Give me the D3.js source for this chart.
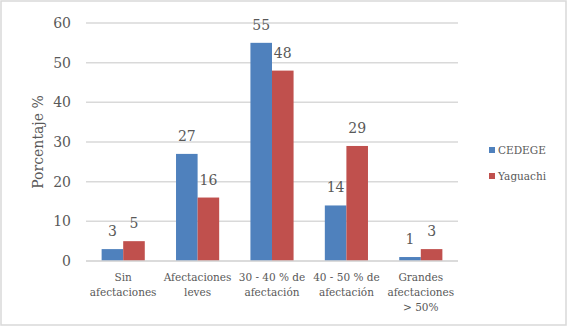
<!DOCTYPE html>
<meta charset="utf-8">
<script src="https://d3js.org/d3.v7.min.js"></script>
<style>
  body { margin: 0; background: #fff; }
  text { font-family: "DejaVu Serif", serif; fill: #595959; }
</style>
<div id="chart"></div>
<script>
// data
var categories = [
  ["Sin", "afectaciones"],
  ["Afectaciones", "leves"],
  ["30 - 40 % de", "afectación"],
  ["40 - 50 % de", "afectación"],
  ["Grandes", "afectaciones", "> 50%"]
];
var seriesNames = ["CEDEGE", "Yaguachi"];
var cedege = [3, 27, 55, 14, 1];
var yaguachi = [5, 16, 48, 29, 3];
var yTicks = [0, 10, 20, 30, 40, 50, 60];
var colors = ["#4f81bd", "#c0504d"];

var W = 568, H = 327;
var svg = d3.select("#chart").append("svg")
  .attr("width", W).attr("height", H);

// outer frame
svg.append("rect")
  .attr("x", 1).attr("y", 1).attr("width", W - 3).attr("height", H - 3)
  .attr("fill", "#fff").attr("stroke", "#d9d9d9").attr("stroke-width", 1.5);

var plotL = 86, plotR = 458, plotT = 23, plotB = 261;

var x0 = d3.scaleBand()
  .domain(d3.range(categories.length))
  .range([plotL, plotR])
  .paddingInner(0.42).paddingOuter(0.21);
var x1 = d3.scaleBand()
  .domain(d3.range(seriesNames.length))
  .range([0, x0.bandwidth()]);
var y = d3.scaleLinear().domain([0, 60]).range([plotB, plotT]);

// gridlines
svg.append("g").selectAll("line")
  .data(yTicks).enter().append("line")
  .attr("x1", plotL).attr("x2", plotR)
  .attr("y1", function(d) { return y(d); })
  .attr("y2", function(d) { return y(d); })
  .attr("stroke", "#d9d9d9").attr("stroke-width", 1.5);

// y tick labels
svg.append("g").selectAll("text")
  .data(yTicks).enter().append("text")
  .attr("x", 71).attr("y", function(d) { return y(d); })
  .attr("dy", "0.35em").attr("text-anchor", "end")
  .style("font-size", "14px")
  .text(function(d) { return d; });

// axis title
svg.append("text")
  .attr("transform", "translate(43,142) rotate(-90)")
  .attr("text-anchor", "middle")
  .style("font-size", "14px")
  .text("Porcentaje %");

// bars
var allSeries = [cedege, yaguachi];
allSeries.forEach(function(vals, s) {
  var g = svg.append("g");
  g.selectAll("rect").data(vals).enter().append("rect")
    .attr("x", function(d, i) { return x0(i) + x1(s); })
    .attr("y", function(d) { return y(d); })
    .attr("width", x1.bandwidth())
    .attr("height", function(d) { return plotB - y(d); })
    .attr("fill", colors[s]);
  g.selectAll("text").data(vals).enter().append("text")
    .attr("x", function(d, i) { return x0(i) + x1(s) + x1.bandwidth() / 2; })
    .attr("y", function(d) { return y(d) - 13; })
    .attr("text-anchor", "middle")
    .style("font-size", "14px")
    .text(function(d) { return d; });
});

// baseline
svg.append("line")
  .attr("x1", plotL).attr("x2", plotR)
  .attr("y1", plotB).attr("y2", plotB)
  .attr("stroke", "#d9d9d9").attr("stroke-width", 1.5);

// category labels
var cat = svg.append("g").selectAll("text")
  .data(categories).enter().append("text")
  .attr("text-anchor", "middle")
  .style("font-size", "10.5px")
  .attr("y", 280.5);
cat.each(function(lines, i) {
  d3.select(this).selectAll("tspan").data(lines).enter().append("tspan")
    .attr("x", x0(i) + x0.bandwidth() / 2)
    .attr("dy", function(d, j) { return j === 0 ? 0 : 15; })
    .text(function(d) { return d; });
});

// legend
var leg = svg.append("g").selectAll("g")
  .data(seriesNames).enter().append("g")
  .attr("transform", function(d, i) { return "translate(489," + (150 + i * 26) + ")"; });
leg.append("rect")
  .attr("x", 0).attr("y", -3).attr("width", 6).attr("height", 6)
  .attr("fill", function(d, i) { return colors[i]; });
leg.append("text")
  .attr("x", 9).attr("dy", "0.35em")
  .style("font-size", "10.5px")
  .text(function(d) { return d; });
</script>
